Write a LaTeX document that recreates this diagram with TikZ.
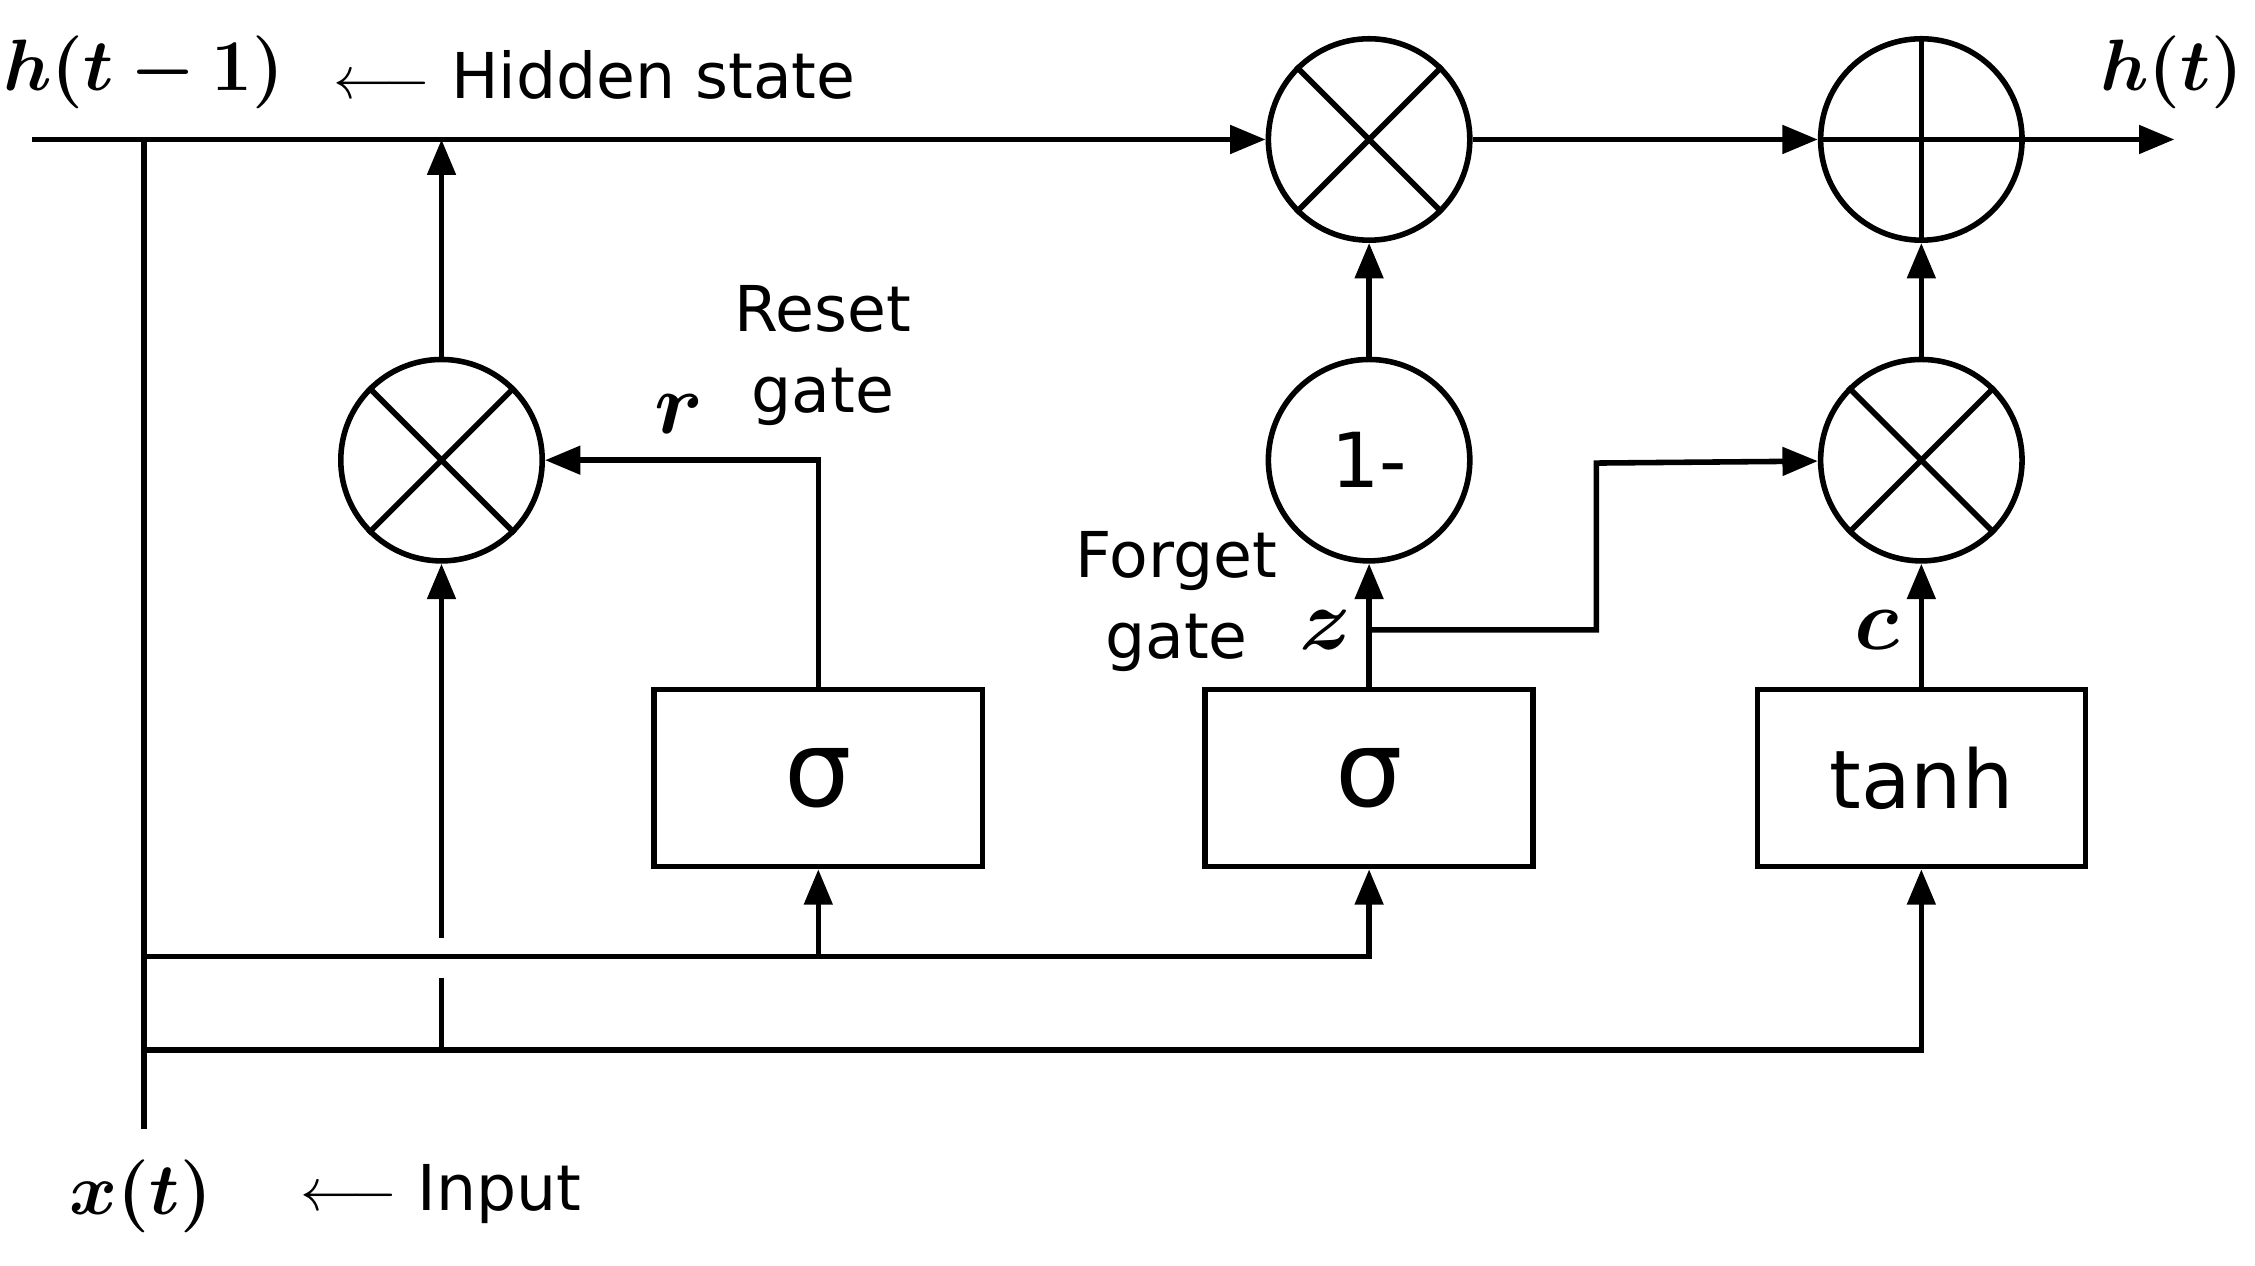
\documentclass[tikz,border=0pt]{standalone}
\usepackage{fontspec}
\usepackage{amsmath,bm}
\setmainfont{DejaVu Sans}
\usetikzlibrary{arrows.meta}
\begin{document}
\begin{tikzpicture}[x=0.01cm,y=-0.01cm,line width=1.1pt,
  ar/.style={-{Triangle[length=7pt,width=5.5pt]}},
  op/.style={circle,draw,minimum size=1.4cm,inner sep=0pt},
  box/.style={draw,minimum width=2.28cm,minimum height=1.23cm,inner sep=0pt},
  lbl/.style={font=\fontsize{12.5}{16}\selectfont,align=center},
  ml/.style={font=\fontsize{14}{17}\selectfont}]
\useasboundingbox (0,0) rectangle (1568,880);
% nodes
\node[op] (rm) at (307,320) {};
\draw (rm.north west)--(rm.south east) (rm.north east)--(rm.south west);
\node[op] (tm) at (952,97) {};
\draw (tm.north west)--(tm.south east) (tm.north east)--(tm.south west);
\node[op,font=\fontsize{15}{18}\selectfont] (om) at (952,320) {1-};
\node[op] (pl) at (1336,97) {};
\draw (pl.north)--(pl.south) (pl.west)--(pl.east);
\node[op] (cm) at (1336,320) {};
\draw (cm.north west)--(cm.south east) (cm.north east)--(cm.south west);
\node[box,font=\fontsize{21}{24}\selectfont] (s1) at (569,541) {σ};
\node[box,font=\fontsize{21}{24}\selectfont] (s2) at (952,541) {σ};
\node[box,font=\fontsize{16}{20}\selectfont] (th) at (1336,541) {tanh};
% coordinates
\coordinate (hs) at (22,97);
\coordinate (he) at (1512,97);
\coordinate (v0) at (100,97);
\coordinate (v1) at (100,785);
\coordinate (rj) at (307,97);
\coordinate (ya) at (100,665);
\coordinate (yb) at (100,730);
\coordinate (g1) at (307,730);
\coordinate (g2) at (307,680);
\coordinate (g3) at (307,652);
\coordinate (zb) at (952,438);
\coordinate (zk1) at (1110,438);
\coordinate (zk2) at (1110,322);
% lines
\draw (hs) -- (v0);
\draw[ar] (v0) -- (tm);
\draw[ar] (tm) -- (pl);
\draw[ar] (pl) -- (he);
\draw (v0) -- (v1);
\draw[ar] (rm) -- (rj);
\draw (g1) -- (g2);
\draw[ar] (g3) -- (rm);
\draw[ar] (s1.north) |- (rm);
\draw[ar] (om) -- (tm);
\draw[ar] (s2) -- (om);
\draw[ar] (zb) -- (zk1) -- (zk2) -- (cm);
\draw[ar] (cm) -- (pl);
\draw[ar] (th) -- (cm);
\draw[ar] (ya) -| (s2.south);
\draw[ar] (s1.south |- ya) -- (s1.south);
\draw[ar] (yb) -| (th.south);
% labels
\node[ml] (lh1) at (100,50) {$\bm{h(t-1)}$};
\node[lbl,anchor=west] (lhs) at (218,52) {$\longleftarrow$ Hidden state};
\node[ml] (lh) at (1510,50) {$\bm{h(t)}$};
\node[ml] (lx) at (98,832) {$\bm{x(t)}$};
\node[lbl,anchor=west] (lin) at (195,830) {$\longleftarrow$ Input};
\node[font=\fontsize{17}{19}\selectfont] (lr) at (472,288) {$\bm{r}$};
\node[lbl] (lrg) at (572,247) {Reset\\gate};
\node[font=\fontsize{17}{19}\selectfont] (lz) at (922,438) {$\bm{z}$};
\node[lbl] (lfg) at (818,418) {Forget\\gate};
\node[font=\fontsize{17}{19}\selectfont] (lc) at (1305,438) {$\bm{c}$};
\end{tikzpicture}
\end{document}
